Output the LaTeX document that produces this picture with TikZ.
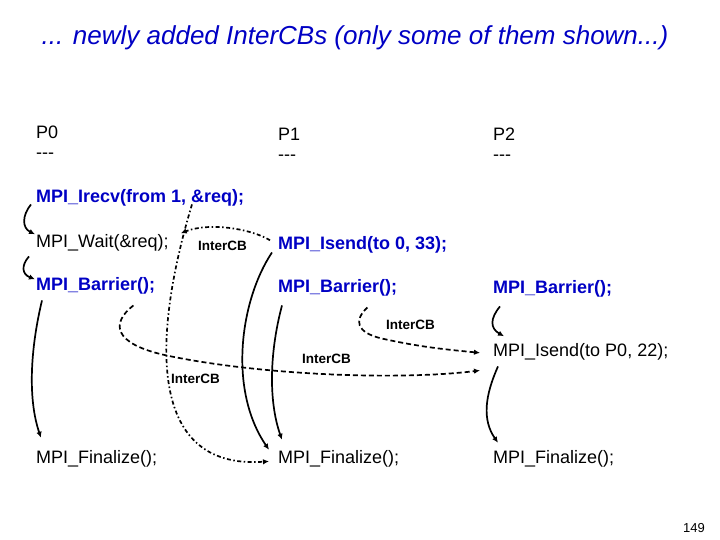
\documentclass[tikz,border=0pt]{standalone}
\usepackage{fontspec}
\setmainfont{Liberation Sans}
\usetikzlibrary{arrows.meta, calc, positioning}
\definecolor{mpiblue}{RGB}{0,0,196}

\tikzset{
  code/.style={font=\fontsize{18}{21}\selectfont, inner sep=0pt, anchor=base west},
  call/.style={code, font=\fontsize{18}{21}\selectfont\bfseries, text=mpiblue},
  cblabel/.style={font=\fontsize{13.5}{16}\selectfont\bfseries, inner sep=0pt, anchor=base west},
  flow/.style={line width=1.7pt, -{Latex[length=6pt,width=5.5pt]}},
  cbdash/.style={flow, dash pattern=on 5pt off 3pt},
  cbdashdot/.style={flow, dash pattern=on 4pt off 2.5pt on 1.5pt off 2.5pt},
}

\begin{document}
\begin{tikzpicture}[x=1pt, y=-1pt]
\useasboundingbox (0,0) rectangle (720,540);

% title
\node[inner sep=0pt, anchor=base, text=mpiblue, font=\fontsize{26}{30}\selectfont\itshape] (title) at (355,45) {... newly added InterCBs (only some of them shown...)};

% processes
\node[code] (p0) at (36,139) {P0};
\node[code] (p0d) at (36,159) {-\kern0pt-\kern0pt-};
\node[code] (p1) at (278,141) {P1};
\node[code] (p1d) at (278,161) {-\kern0pt-\kern0pt-};
\node[code] (p2) at (493,141) {P2};
\node[code] (p2d) at (493,161) {-\kern0pt-\kern0pt-};

% calls
\node[call] (irecv) at (36,202.5) {MPI\_Irecv(from 1, \&req);};
\node[code] (wait0) at (36,247.5) {MPI\_Wait(\&req);};
\node[call] (isend1) at (278,249.5) {MPI\_Isend(to 0, 33);};
\node[call] (bar0) at (36,290.5) {MPI\_Barrier();};
\node[call] (bar1) at (278,292.5) {MPI\_Barrier();};
\node[call] (bar2) at (493,293.5) {MPI\_Barrier();};
\node[code] (isend2) at (493,356.5) {MPI\_Isend(to P0, 22);};
\node[code] (fin0) at (36,463) {MPI\_Finalize();};
\node[code] (fin1) at (278,463) {MPI\_Finalize();};
\node[code] (fin2) at (493,463) {MPI\_Finalize();};

% InterCB labels
\node[cblabel] (cbA) at (198,251) {InterCB};
\node[cblabel] (cbB) at (386,329) {InterCB};
\node[cblabel] (cbC) at (302,363) {InterCB};
\node[cblabel] (cbD) at (171,383) {InterCB};

\node[inner sep=0pt, anchor=base west, font=\fontsize{13}{15}\selectfont] (page) at (683,532) {149};

% program order
\draw[flow] ([shift={(-5,-2)}]irecv.south west) .. controls +(-9,11) and +(-13,-6.4) .. ([xshift=-1pt]wait0.north west);
\draw[flow] ([shift={(-7,5)}]wait0.south west) .. controls +(-8,9) and +(-13,-5) .. ([shift={(-1,2)}]bar0.north west);
\draw[flow] ([shift={(6,6)}]bar0.south west) .. controls +(-12,50) and +(-13,-38) .. ([shift={(5,-12)}]fin0.north west);
\draw[flow] ([shift={(-6,-1)}]isend1.south west) .. controls +(-32,48) and +(-41,-60) .. ([xshift=-9pt]fin1.north west);
\draw[flow] ([shift={(4,9)}]bar1.south west) .. controls +(-12,45) and +(-14,-40) .. ([shift={(4,-10)}]fin1.north west);
\draw[flow] ([shift={(7,9)}]bar2.south west) .. controls +(-10,12) and +(-14,-8) .. ([shift={(11,-7)}]isend2.north west);
\draw[flow] ([shift={(5,6)}]isend2.south west) .. controls +(-13,29) and +(-16,-23) .. ([shift={(5,-7)}]fin2.north west);

% InterCBs
\draw[cbdashdot] ([shift={(156,-2)}]irecv.south west) .. controls +(-38,126) and +(-125,9) .. ([shift={(-9,3)}]fin1.west);
\draw[cbdashdot] ([shift={(-8,4)}]isend1.north west) .. controls +(-20,-12) and +(28,-11) .. ([shift={(12,-1)}]wait0.north east);
\draw[cbdash] ([shift={(-22,11)}]bar0.south east) .. controls +(-22,17) and +(-55,-12) .. ++(33,50)
  .. controls +(95,20) and +(-80,10) .. ([shift={(-13,10)}]isend2.south west);
\draw[cbdash] ([shift={(-30,11)}]bar1.south east) .. controls +(-14,13) and +(-25,-6) .. ++(14,31)
  .. controls +(40,9) and +(-30,-3) .. ([shift={(-13,1)}]isend2.west);
\end{tikzpicture}
\end{document}
